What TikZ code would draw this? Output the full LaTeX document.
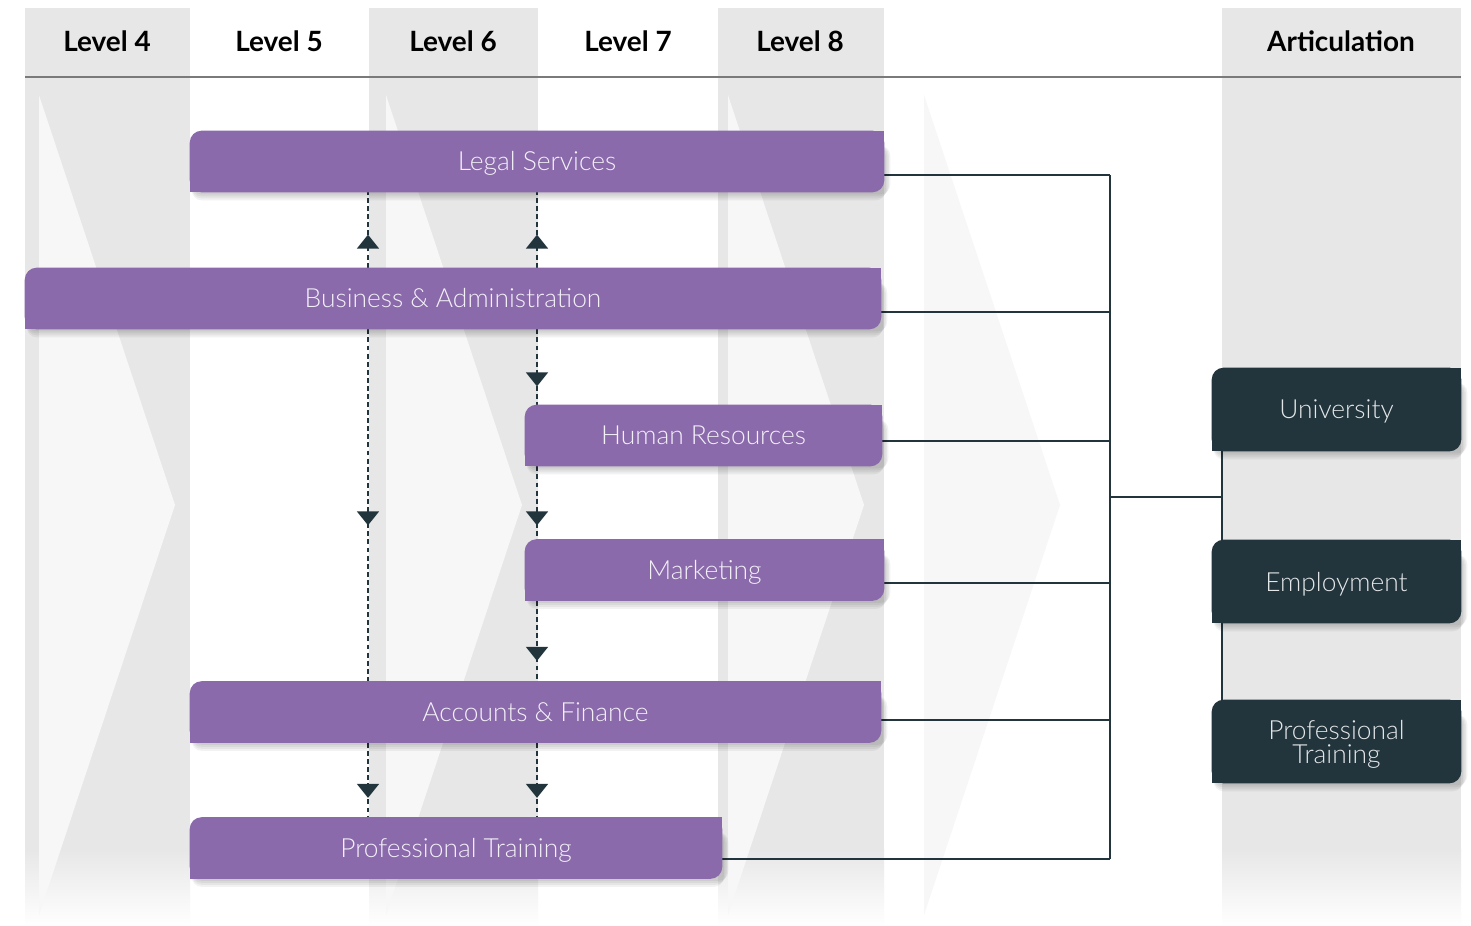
\documentclass[tikz,border=0pt]{standalone}
\usepackage{fontspec}
\setmainfont{Lato}
\newfontfamily\latolight{Lato Light}
\usetikzlibrary{arrows.meta,decorations.markings,calc}

\definecolor{purp}{HTML}{8A6AAB}
\definecolor{slate}{HTML}{22343C}
\definecolor{colgray}{HTML}{E7E7E7}
\definecolor{chev}{HTML}{F7F7F7}
\definecolor{rule}{HTML}{7A7A7A}

\pgfdeclarelayer{back}
\pgfdeclarelayer{bars}
\pgfsetlayers{back,bars,main}

\tikzset{
	course/.style={minimum height=1.22cm, inner sep=0pt, text height=10.8pt, text depth=0pt, text=white!90!purp, font=\latolight\fontsize{15}{18}\selectfont},
	exitbox/.style={minimum width=4.98cm, minimum height=1.66cm, inner sep=0pt, align=center, text depth=0pt, text=white!88!slate, font=\latolight\fontsize{15}{13.6}\selectfont},
	level/.style={font=\bfseries\fontsize{15.9}{20}\selectfont},
	link/.style={slate, line width=1.2pt},
	flow/.style={slate, line width=1.1pt, dash pattern=on 2.8pt off 1.8pt, postaction={decorate},
		decoration={markings, mark=at position #1 with {\arrow{Triangle[width=0.44cm,length=0.28cm]}}}},
	softshadow/.style={black, opacity=0.05, rounded corners=0.2cm}
}

% rounded top left and bottom right, square elsewhere
\newcommand\leafbox[2]{%
	\foreach \s/\e in {0.04cm/0.12cm,0.08cm/0.09cm,0.12cm/0.06cm,0.16cm/0.03cm}
		\fill[softshadow] ([xshift=0.04cm, yshift=-\s]#1.south west) rectangle ([xshift=\e, yshift=-0.3cm]#1.north east);
	\fill[#2, rounded corners=0.24cm] (#1.south west) rectangle (#1.north east);
	\fill[#2] (#1.south west) rectangle ([xshift=0.3cm, yshift=0.3cm]#1.south west);
	\fill[#2] (#1.north east) rectangle ([xshift=-0.3cm, yshift=-0.3cm]#1.north east);}

\begin{document}
\begin{tikzpicture}[x=0.02cm, y=0.02cm]
		\useasboundingbox (0,0) rectangle (1471,-926);
		
		\node[level] (h4) at (107,-41) {Level 4};
		\node[level] (h5) at (279,-41) {Level 5};
		\node[level] (h6) at (453,-41) {Level 6};
		\node[level] (h7) at (628,-41) {Level 7};
		\node[level] (h8) at (800,-41) {Level 8};
		\node[level] (hart) at (1341,-41) {Articulation};
		
		\node[course, minimum width=13.88cm] (legal) at (537,-161.5) {Legal Services};
		\node[course, minimum width=17.12cm] (busadm) at (453,-298.5) {Business \& Administration};
		\node[course, minimum width=7.14cm] (hr) at (703.5,-435.5) {Human Resources};
		\node[course, minimum width=7.18cm] (mkt) at (704.5,-570) {Marketing};
		\node[course, minimum width=13.82cm] (accfin) at (535.5,-712) {Accounts \& Finance};
		\node[course, minimum width=10.64cm] (proftr) at (456,-848) {Professional Training};
		
		\node[exitbox] (uni) at (1336.5,-409.5) {University};
		\node[exitbox] (emp) at (1336.5,-581.5) {Employment};
		\node[exitbox] (ptrain) at (1336.5,-741.5) {Professional\\Training};
		
		\begin{pgfonlayer}{back}
		\fill[white] (0,0) rectangle (1471,-926);
		\foreach \xa/\xb in {25/190,369/538,718/884,1222/1461} {
			\fill[colgray] (\xa,-8) rectangle (\xb,-850);
			\shade[top color=colgray, bottom color=white] (\xa,-849.5) rectangle (\xb,-926);
		}
		\foreach \x in {39,386,728}
			\fill[chev] (\x,-95) -- (\x+136,-505) -- (\x,-915) -- cycle;
		\fill[white!97!black] (924,-95) -- (1060,-505) -- (924,-915) -- cycle;
		\draw[rule, line width=1.2pt] (25,-77) -- (1461,-77);
		
		\coordinate (c5) at (368,0);
		\coordinate (c6) at (537,0);
		\draw[flow=0.66cm] (busadm.north -| c5) -- (legal.south -| c5);
		\draw[flow=0.66cm] (busadm.north -| c6) -- (legal.south -| c6);
		\draw[flow=1.14cm] (busadm.south -| c6) -- (hr.north -| c6);
		\draw[flow=3.92cm] (busadm.south -| c5) -- (accfin.north -| c5);
		\draw[flow=1.18cm] (hr.south -| c6) -- (mkt.north -| c6);
		\draw[flow=1.2cm] (mkt.south -| c6) -- (accfin.north -| c6);
		\draw[flow=1.1cm] (accfin.south -| c5) -- (proftr.north -| c5);
		\draw[flow=1.1cm] (accfin.south -| c6) -- (proftr.north -| c6);
		
		\coordinate (t1) at (1110,-175);
		\coordinate (t2) at (1110,-312);
		\coordinate (t3) at (1110,-441);
		\coordinate (t4) at (1110,-583);
		\coordinate (t5) at (1110,-720);
		\coordinate (t6) at (1110,-859);
		\coordinate (hub) at (1110,-497);
		\draw[link] (legal.east |- t1) -- (t1);
		\draw[link] (busadm.east |- t2) -- (t2);
		\draw[link] (hr.east |- t3) -- (t3);
		\draw[link] (mkt.east |- t4) -- (t4);
		\draw[link] (accfin.east |- t5) -- (t5);
		\draw[link] (proftr.east |- t6) -- (t6);
		\draw[link] (t1) -- (t6);
		\coordinate (spine) at ([xshift=0.2cm]uni.south west);
		\draw[link] (hub) -- (hub -| spine);
		\draw[link] (spine) -- ([xshift=0.2cm]ptrain.north west);
		\end{pgfonlayer}
		
		\begin{pgfonlayer}{bars}
		\foreach \n in {legal,busadm,hr,mkt,accfin,proftr}
			\leafbox{\n}{purp};
		\foreach \n in {uni,emp,ptrain}
			\leafbox{\n}{slate};
		\end{pgfonlayer}
\end{tikzpicture}
\end{document}
